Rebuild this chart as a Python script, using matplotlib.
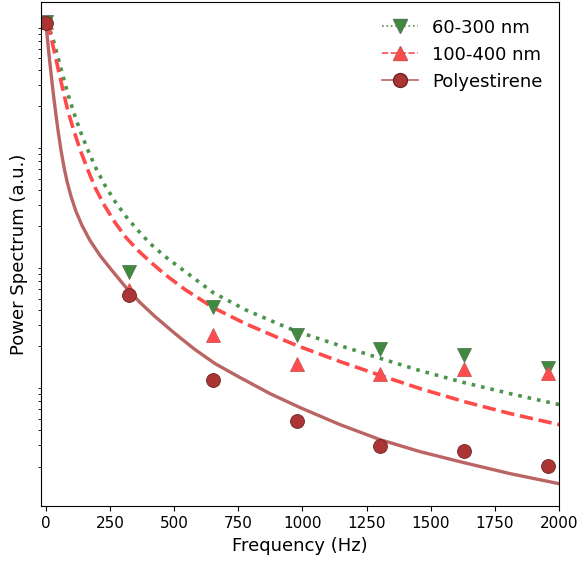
import matplotlib

matplotlib.use("Agg")
import matplotlib.pyplot as plt
import numpy as np
from matplotlib.lines import Line2D

# measured points
freq_pts = [0, 326, 652, 978, 1304, 1630, 1956]
ps_6030 = [1.0, 8.30e-3, 4.25e-3, 2.51e-3, 1.91e-3, 1.71e-3, 1.33e-3]
ps_100400 = [1.0, 5.96e-3, 2.50e-3, 1.43e-3, 1.19e-3, 1.30e-3, 1.21e-3]
ps_poly = [0.99, 5.38e-3, 1.06e-3, 4.82e-4, 2.99e-4, 2.71e-4, 2.03e-4]

# fitted curves as log10(power)
fit_f_green = [0, 16.8, 32.3, 47.9, 67.4, 86.9, 110.3, 133.6, 164.8, 196.0, 231.0, 270.0,
               312.8, 359.6, 406.4, 464.8, 542.7, 651.8, 776.5, 912.8, 979.1, 1146.6,
               1306.3, 1458.3, 1629.7, 1808.9, 2000]
fit_log_green = [0, -0.067, -0.167, -0.292, -0.450, -0.600, -0.758, -0.900, -1.067, -1.217,
                 -1.358, -1.492, -1.617, -1.733, -1.842, -1.950, -2.075, -2.250, -2.392,
                 -2.517, -2.575, -2.692, -2.800, -2.900, -3.000, -3.092, -3.183]
fit_f_red = fit_f_green
fit_log_red = [0, -0.092, -0.233, -0.383, -0.567, -0.742, -0.908, -1.058, -1.233, -1.392,
               -1.533, -1.667, -1.792, -1.900, -1.992, -2.100, -2.225, -2.375, -2.508,
               -2.633, -2.692, -2.825, -2.942, -3.050, -3.158, -3.258, -3.350]
fit_f_poly = [0, 5.1, 9.0, 16.8, 24.5, 32.3, 40.1, 47.9, 59.6, 71.3, 83.0, 98.6, 118.0,
              141.4, 172.6, 211.6, 258.3, 312.8, 367.4, 425.8, 503.7, 581.7, 659.6, 757.0,
              873.9, 990.8, 1146.6, 1302.4, 1458.3, 1629.7, 1808.9, 2000]
fit_log_poly = [0, -0.100, -0.192, -0.350, -0.500, -0.642, -0.775, -0.900, -1.067, -1.208,
                -1.325, -1.450, -1.575, -1.692, -1.817, -1.942, -2.067, -2.208, -2.333,
                -2.450, -2.592, -2.725, -2.842, -2.958, -3.092, -3.208, -3.350, -3.475,
                -3.575, -3.667, -3.758, -3.842]

labels = ["60-300 nm", "100-400 nm", "Polyestirene"]

c_green, c_green_m = "#4b944b", "#3f8a3f"
c_red, c_red_m = "#ff4a4a", "#ff4d4d"
c_brown, c_brown_m = "#bb6464", "#ab3535"

fig = plt.figure(figsize=(5.8, 5.64), dpi=100)
ax = fig.add_axes([0.070, 0.102, 0.894, 0.894])

ax.plot(fit_f_green, 10 ** np.array(fit_log_green), ":", color=c_green, lw=2.6)
ax.plot(fit_f_red, 10 ** np.array(fit_log_red), "--", color=c_red, lw=2.6)
ax.plot(fit_f_poly, 10 ** np.array(fit_log_poly), "-", color=c_brown, lw=2.4)

ax.plot(freq_pts, ps_6030, "v", ls="none", ms=10, color=c_green_m, mec="#557755", mew=0.6)
ax.plot(freq_pts, ps_100400, "^", ls="none", ms=10, color=c_red_m, mec="#cc5555", mew=0.6)
ax.plot(freq_pts, ps_poly, "o", ls="none", ms=10, color=c_brown_m, mec="#6e2525", mew=0.6)

ax.set_yscale("log")
ax.set_xlim(-20, 2000)
ax.set_ylim(9.3e-5, 1.47)
ax.set_yticks([])
ax.tick_params(axis="x", labelsize=11)
ax.set_xlabel("Frequency (Hz)", fontsize=13)
ax.set_ylabel("Power Spectrum (a.u.)", fontsize=13)

handles = [
    Line2D([], [], ls=":", color=c_green, lw=1.2, marker="v", ms=10, mfc=c_green_m, mec="#557755"),
    Line2D([], [], ls="--", color=c_red, lw=1.2, marker="^", ms=10, mfc=c_red_m, mec="#cc5555"),
    Line2D([], [], ls="-", color=c_brown, lw=1.2, marker="o", ms=10, mfc=c_brown_m, mec="#6e2525"),
]
ax.legend(handles, labels, loc="upper right", fontsize=13, frameon=False)

fig.savefig("out.png", dpi=100)
